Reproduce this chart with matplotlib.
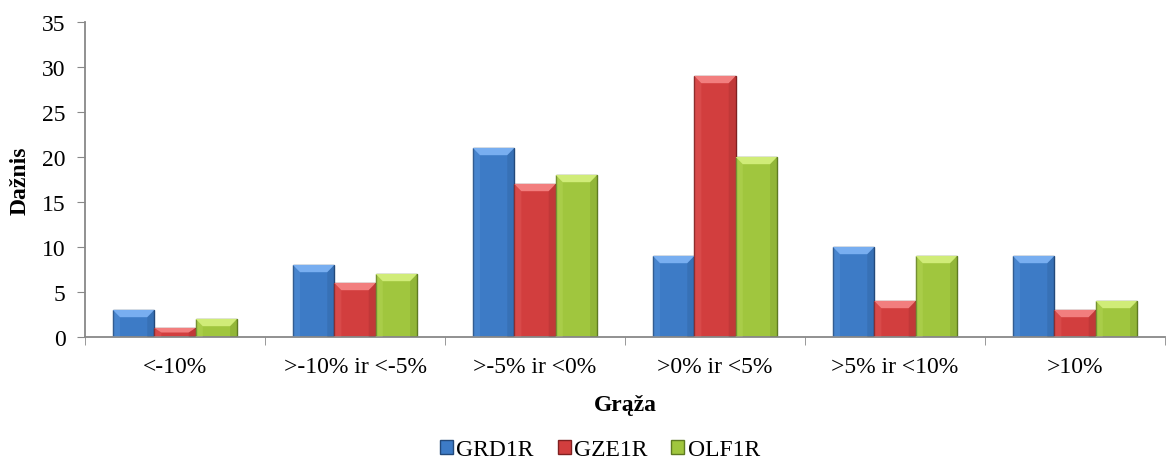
import numpy as np
import matplotlib.pyplot as plt
from matplotlib.patches import Polygon

plt.rcParams['font.family'] = ['Liberation Serif', 'DejaVu Serif']

# data
categories = ['<-10%', '>-10% ir <-5%', '>-5% ir <0%', '>0% ir <5%', '>5% ir <10%', '>10%']
grd1r = [3, 8, 21, 9, 10, 9]
gze1r = [1, 6, 17, 29, 4, 3]
olf1r = [2, 7, 18, 20, 9, 4]
series_names = ['GRD1R', 'GZE1R', 'OLF1R']

face = ['#3d7bc6', '#d23e3e', '#a0c63e']
light = ['#78aef0', '#f27e7e', '#d0ec78']
edge = ['#23497a', '#7f2020', '#5e7a22']

fig = plt.figure(figsize=(11.75, 4.64), dpi=100)
ax = fig.add_axes([85 / 1175, 1 - 338 / 464, 1080 / 1175, 315 / 464])

x = np.arange(len(categories))
w = 0.23
handles = []
for i, vals in enumerate([grd1r, gze1r, olf1r]):
    bars = ax.bar(x + (i - 1) * w, vals, w, color=face[i], edgecolor=edge[i],
                  linewidth=1.0, zorder=2, label=series_names[i])
    handles.append(bars)
    # bevel highlight on top of each bar
    for b in bars:
        x0, y0 = b.get_x(), b.get_y()
        bw, bh = b.get_width(), b.get_height()
        dx = bw * 0.17
        dy = min(0.8, bh / 2)
        top = Polygon([(x0, y0 + bh), (x0 + bw, y0 + bh),
                       (x0 + bw - dx, y0 + bh - dy), (x0 + dx, y0 + bh - dy)],
                      closed=True, facecolor=light[i], edgecolor='none', zorder=3)
        ax.add_patch(top)
        left = Polygon([(x0, y0 + bh), (x0 + dx, y0 + bh - dy), (x0 + dx, y0), (x0, y0)],
                       closed=True, facecolor=light[i], alpha=0.2, edgecolor='none', zorder=3)
        ax.add_patch(left)
        right = Polygon([(x0 + bw, y0 + bh), (x0 + bw - dx, y0 + bh - dy), (x0 + bw - dx, y0), (x0 + bw, y0)],
                        closed=True, facecolor=edge[i], alpha=0.2, edgecolor='none', zorder=3)
        ax.add_patch(right)
        ax.add_patch(Polygon(b.get_verts(), closed=True, facecolor='none',
                             edgecolor=edge[i], linewidth=1.0, zorder=4))

ax.set_xlim(-0.5, len(categories) - 0.5)
ax.set_ylim(0, 35)
ax.set_yticks(np.arange(0, 36, 5))
ax.set_xticks(x)
ax.set_xticklabels(categories)
ax.set_xticks(np.arange(-0.5, len(categories), 1), minor=True)
ax.tick_params(axis='x', which='major', length=0, pad=14, labelsize=17)
ax.tick_params(axis='x', which='minor', length=6, color='#888888', direction='out')
ax.tick_params(axis='y', length=6, color='#888888', direction='out', labelsize=17, pad=8)

for s in ['top', 'right']:
    ax.spines[s].set_visible(False)
for s in ['left', 'bottom']:
    ax.spines[s].set_color('#888888')
    ax.spines[s].set_linewidth(1.3)

ax.set_xlabel('Grąža', fontsize=17, fontweight='bold')
ax.set_ylabel('Dažnis', fontsize=17, fontweight='bold')
ax.xaxis.set_label_coords(0.5, -57 / 315, transform=ax.transAxes)
ax.yaxis.set_label_coords(-54 / 1080, 0.5, transform=ax.transAxes)

fig.legend(handles, series_names, loc='center', bbox_to_anchor=(600 / 1175, 1 - 451 / 464),
           ncol=3, frameon=False, fontsize=17, handlelength=0.55, handleheight=0.55,
           handletextpad=0.15, columnspacing=1.0, borderpad=0.1)

fig.savefig('out.png', dpi=100)
